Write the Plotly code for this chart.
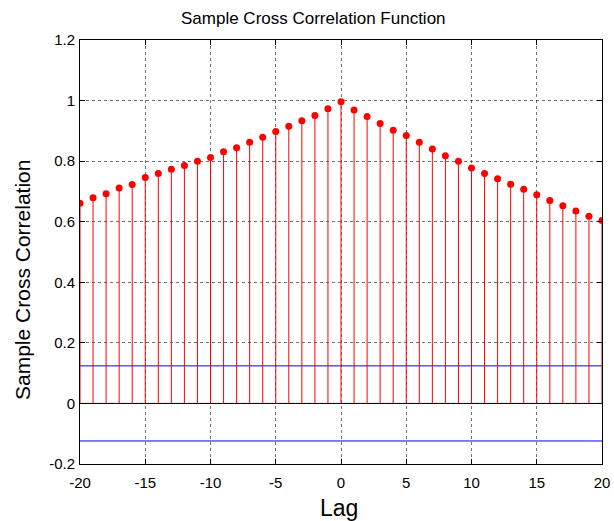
import plotly.graph_objects as go

lags = list(range(-20, 21))
xcf = [0.661, 0.679, 0.692, 0.711, 0.723, 0.746, 0.759, 0.773, 0.786, 0.800,
       0.812, 0.831, 0.844, 0.862, 0.879, 0.898, 0.915, 0.933, 0.951, 0.973,
       0.996,
       0.969, 0.947, 0.924, 0.902, 0.885, 0.862, 0.840, 0.818, 0.800, 0.777,
       0.759, 0.742, 0.724, 0.707, 0.689, 0.670, 0.653, 0.635, 0.618, 0.604]
conf_bound = 0.124
ytick_vals = [-0.2, 0, 0.2, 0.4, 0.6, 0.8, 1.0, 1.2]
ytick_text = ["-0.2", "0", "0.2", "0.4", "0.6", "0.8", "1", "1.2"]
xtick_vals = [-20, -15, -10, -5, 0, 5, 10, 15, 20]
xtick_text = ["-20", "-15", "-10", "-5", "0", "5", "10", "15", "20"]

font = "Liberation Sans, Arial, sans-serif"

stem_x, stem_y = [], []
for l, v in zip(lags, xcf):
    stem_x += [l, l, None]
    stem_y += [0, v, None]

fig = go.Figure()
for b in (conf_bound, -conf_bound):
    fig.add_trace(go.Scatter(x=[lags[0], lags[-1]], y=[b, b], mode="lines",
                             line=dict(color="blue", width=1), showlegend=False,
                             hoverinfo="skip"))
fig.add_trace(go.Scatter(x=[lags[0], lags[-1]], y=[0, 0], mode="lines",
                         line=dict(color="black", width=1), showlegend=False,
                         hoverinfo="skip"))
fig.add_trace(go.Scatter(x=stem_x, y=stem_y, mode="lines",
                         line=dict(color="red", width=1), showlegend=False))
fig.add_trace(go.Scatter(x=lags, y=xcf, mode="markers",
                         marker=dict(color="red", size=7), showlegend=False))

axis_common = dict(showline=True, linecolor="black", linewidth=1, mirror="ticks",
                   ticks="inside", ticklen=5, tickcolor="black",
                   showgrid=True, gridcolor="rgba(0,0,0,0.55)", griddash="dot",
                   gridwidth=1, zeroline=False, automargin=False,
                   tickfont=dict(family=font, size=15, color="black"))

fig.update_layout(
    width=614, height=521,
    margin=dict(l=80, r=12, t=40, b=57, autoexpand=False),
    paper_bgcolor="white", plot_bgcolor="white",
    xaxis=dict(range=[-20, 20], tickvals=xtick_vals, ticktext=xtick_text,
               ticklabelstandoff=5, **axis_common),
    yaxis=dict(range=[-0.2, 1.2], tickvals=ytick_vals, ticktext=ytick_text,
               ticklabelstandoff=1, **axis_common),
    annotations=[
        dict(text="Sample Cross Correlation Function", x=313, y=521 - 19,
             showarrow=False, font=dict(family=font, size=17, color="black")),
        dict(text="Lag", x=339, y=521 - 508, showarrow=False,
             font=dict(family=font, size=23, color="black")),
        dict(text="Sample Cross Correlation", x=22, y=521 - 280, textangle=-90,
             showarrow=False, font=dict(family=font, size=21, color="black")),
    ],
)

# convert pixel positions of annotations to paper coordinates
pl, pr, pt, pb = 80, 614 - 12, 40, 521 - 57
for a in fig.layout.annotations:
    a.x = (a.x - pl) / (pr - pl)
    a.y = (a.y - (521 - pb)) / (pb - pt)
    a.xref = "paper"
    a.yref = "paper"
    a.xanchor = "center"
    a.yanchor = "middle"

fig.write_html("out.html")
